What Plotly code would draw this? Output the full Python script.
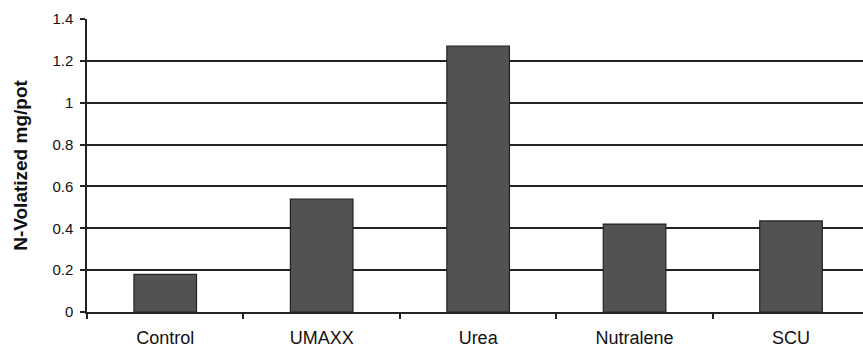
import plotly.graph_objects as go

categories = ["Control", "UMAXX", "Urea", "Nutralene", "SCU"]
values = [0.18, 0.54, 1.27, 0.42, 0.435]
y_ticks = [0, 0.2, 0.4, 0.6, 0.8, 1, 1.2, 1.4]
y_tick_labels = ["0", "0.2", "0.4", "0.6", "0.8", "1", "1.2", "1.4"]

fig = go.Figure(go.Bar(
    x=categories, y=values, width=0.4,
    marker=dict(color="#525252", line=dict(color="#222222", width=1.2)),
))

fig.update_layout(
    width=863, height=350,
    margin=dict(l=87, r=0, t=19, b=38),
    paper_bgcolor="white", plot_bgcolor="white",
    font=dict(family="Liberation Sans, Arial, sans-serif", size=14, color="#111111"),
    showlegend=False,
)
fig.update_xaxes(
    range=[-0.5, 4.46], tickson="boundaries", ticks="outside", ticklen=5,
    tickcolor="#222222", tickwidth=1.5, automargin=False,
    showline=True, linecolor="#222222", linewidth=1.5,
    showgrid=False, ticklabelstandoff=9, tickfont=dict(size=18),
)
fig.update_yaxes(
    range=[0, 1.4], tickvals=y_ticks, ticktext=y_tick_labels,
    ticks="outside", ticklen=5, tickcolor="#222222", tickwidth=1.5,
    showline=True, linecolor="#222222", linewidth=1.5, automargin=False,
    showgrid=True, gridcolor="#222222", gridwidth=1.5,
    zeroline=False, tickfont=dict(size=15), ticklabelstandoff=4,
    title=dict(text="<b>N-Volatized mg/pot</b>", font=dict(size=19), standoff=20),
)

fig.write_html("out.html")
